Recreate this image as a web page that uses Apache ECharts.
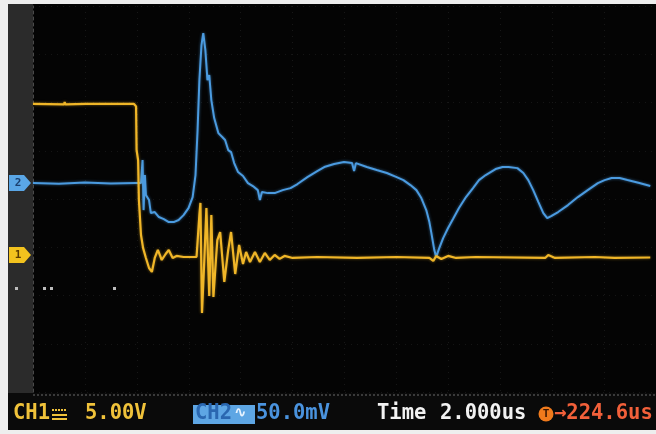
<!DOCTYPE html>
<html>
<head>
<meta charset="utf-8">
<script src="https://cdn.jsdelivr.net/npm/echarts@6/dist/echarts.min.js"></script>
<style>
  html, body { margin: 0; padding: 0; background: #eeeeee; }
  #chart { width: 656px; height: 434px; }
</style>
</head>
<body>
<div id="chart"></div>
<script>
// Time base: 2 us/div, 12 divisions
const timeMax = 24;
const timeStep = 2;
// Vertical: 8 divisions, channel zero offsets in divisions from the bottom
const divisions = 8;
const ch1VoltsPerDiv = 5;      // V/div
const ch2MilliVoltsPerDiv = 50; // mV/div
const ch1ZeroDiv = 2.84;
const ch2ZeroDiv = 4.33;

// CH1 trace: [time us, volts]
const ch1Trace = [
  [0, 15.65], [1.2, 15.6], [1.22, 15.85], [1.25, 15.6], [2.03, 15.65], [2.05, 15.85], [2.08, 15.6],
  [2.85, 15.65], [2.87, 15.85], [2.9, 15.6], [3.89, 15.65], [3.97, 15.4], [3.99, 10.9], [4.05, 9.8],
  [4.08, 5.7], [4.16, 2.07], [4.24, 0.73], [4.35, -0.31], [4.47, -1.35], [4.58, -1.76], [4.69, -0.31],
  [4.81, 0.52], [4.96, -0.52], [5.11, 0.1], [5.23, 0.52], [5.38, -0.31], [5.53, -0.1], [5.8, -0.21],
  [6.3, -0.21], [6.41, 4.15], [6.45, 5.39], [6.51, -6.0], [6.6, -0.52], [6.68, 4.87], [6.79, -4.25],
  [6.87, 4.15], [6.95, -4.35], [7.1, 1.55], [7.21, 2.38], [7.37, -2.8], [7.52, 0.52], [7.63, 2.38],
  [7.79, -1.97], [7.94, 1.04], [8.09, -0.93], [8.21, 0.31], [8.36, -0.73], [8.55, 0.31], [8.74, -0.73],
  [8.93, 0.21], [9.12, -0.52], [9.31, 0], [9.5, -0.41], [9.69, -0.1], [10.0, -0.31], [10.95, -0.21],
  [12.48, -0.31], [14.0, -0.21], [15.27, -0.31], [15.42, -0.62], [15.53, -0.1], [15.73, -0.41],
  [15.99, -0.1], [16.3, -0.31], [17.06, -0.21], [19.73, -0.31], [19.85, 0], [20.11, -0.31],
  [21.64, -0.21], [22.4, -0.31], [23.78, -0.26]
];

// CH2 trace: [time us, millivolts]
const ch2Trace = [
  [0, 0], [1.0, -0.8], [2.0, 0.6], [3.0, -0.5], [3.97, 0], [4.16, 0], [4.22, 23.8], [4.26, -28],
  [4.31, 8.3], [4.35, -12.4], [4.47, -17.6], [4.54, -31.1], [4.69, -30], [4.85, -35.2], [5.04, -37.3],
  [5.23, -40.4], [5.42, -40.4], [5.61, -38.3], [5.8, -33.2], [5.99, -25.9], [6.15, -14.5], [6.26, 8.3],
  [6.34, 54.9], [6.41, 106.7], [6.49, 143], [6.56, 155.4], [6.64, 137.8], [6.72, 106.7], [6.79, 111.9],
  [6.87, 86], [6.98, 67.4], [7.14, 51.8], [7.29, 47.7], [7.4, 44.6], [7.52, 34.2], [7.63, 32.1],
  [7.75, 20.7], [7.9, 11.4], [8.09, 7.3], [8.28, 0], [8.47, -3.1], [8.66, -7.3], [8.74, -17.6],
  [8.82, -9.3], [9.05, -10.4], [9.31, -10.4], [9.62, -7.3], [9.92, -5.2], [10.19, -1.0], [10.57, 6.2],
  [10.95, 12.4], [11.22, 16.6], [11.6, 19.7], [11.98, 21.8], [12.29, 20.7], [12.37, 12.4], [12.44, 20.7],
  [12.86, 16.6], [13.24, 13.5], [13.63, 10.4], [14.01, 6.2], [14.27, 3.1], [14.54, -2.1], [14.77, -7.3],
  [14.96, -15.5], [15.15, -28], [15.27, -40.4], [15.34, -50.8], [15.46, -69.4], [15.53, -76.7],
  [15.65, -67.4], [15.8, -57], [15.99, -46.6], [16.18, -37.3], [16.41, -25.9], [16.68, -14.5],
  [16.95, -5.2], [17.18, 3.1], [17.44, 8.3], [17.82, 14.5], [18.09, 16.6], [18.32, 16.6], [18.66, 15.5],
  [18.89, 10.4], [19.08, 3.1], [19.27, -7.3], [19.47, -19.7], [19.66, -31.1], [19.81, -36.3],
  [19.96, -34.2], [20.23, -30], [20.61, -22.8], [20.99, -14.5], [21.37, -7.3], [21.76, 0], [22.02, 3.1],
  [22.29, 5.2], [22.6, 5.2], [22.9, 3.1], [23.36, 0], [23.78, -3.1]
];

// Status line texts
const ch1Label = 'CH1';
const ch1Scale = '5.00V';
const ch2Label = 'CH2';
const ch2Scale = '50.0mV';
const timeLabel = 'Time';
const timeScale = '2.000us';
const triggerLabel = '→224.6us';

const MONO = '"DejaVu Sans Mono", "Liberation Mono", monospace';
const YELLOW = '#f0b628';
const BLUE = '#4b9be0';

const chart = echarts.init(document.getElementById('chart'), null, { renderer: 'canvas' });

const gridBox = { left: 33, top: 6, width: 629, height: 386 };

chart.setOption({
  backgroundColor: '#eeeeee',
  animation: false,
  grid: Object.assign({ containLabel: false }, gridBox),
  xAxis: {
    type: 'value', min: 0, max: timeMax, interval: timeStep,
    axisLabel: { show: false }, axisTick: { show: false },
    axisLine: { show: false },
    splitLine: { show: true, lineStyle: { color: 'rgba(200,200,200,0.10)', type: [1, 5], width: 1 } }
  },
  yAxis: [
    { // grid divisions
      type: 'value', min: 0, max: divisions, interval: 1,
      axisLabel: { show: false }, axisTick: { show: false },
      axisLine: { show: true, lineStyle: { color: '#4a4a4a', type: [3, 3] } },
      splitLine: { show: true, lineStyle: { color: 'rgba(200,200,200,0.09)', type: [1, 5], width: 1 } }
    },
    { // CH1 volts
      type: 'value', show: false,
      min: -ch1ZeroDiv * ch1VoltsPerDiv, max: (divisions - ch1ZeroDiv) * ch1VoltsPerDiv,
      splitLine: { show: false }
    },
    { // CH2 millivolts
      type: 'value', show: false,
      min: -ch2ZeroDiv * ch2MilliVoltsPerDiv, max: (divisions - ch2ZeroDiv) * ch2MilliVoltsPerDiv,
      splitLine: { show: false }
    }
  ],
  series: [
    {
      name: 'CH2', type: 'line', yAxisIndex: 2, data: ch2Trace,
      showSymbol: false, smooth: false, z: 3,
      lineStyle: { color: BLUE, width: 2, shadowColor: 'rgba(75,155,224,0.6)', shadowBlur: 3 }
    },
    {
      name: 'CH1', type: 'line', yAxisIndex: 1, data: ch1Trace,
      showSymbol: false, smooth: false, z: 4,
      lineStyle: { color: YELLOW, width: 2.2, shadowColor: 'rgba(240,182,40,0.5)', shadowBlur: 3 }
    }
  ]
});

// Channel ground markers placed at each channel's zero level
const ch1Zero = chart.convertToPixel({ xAxisIndex: 0, yAxisIndex: 1 }, [0, 0])[1];
const ch2Zero = chart.convertToPixel({ xAxisIndex: 0, yAxisIndex: 2 }, [0, 0])[1];

function marker(y, color, label, textColor) {
  return [
    { type: 'polygon', z: 20, shape: { points: [[9, y - 8], [24, y - 8], [31, y], [24, y + 8], [9, y + 8]] }, style: { fill: color }, silent: true },
    { type: 'text', z: 21, style: { x: 18, y: y, text: label, fill: textColor, font: 'bold 11px ' + MONO, align: 'center', verticalAlign: 'middle' }, silent: true }
  ];
}

const statusY = 414;
const statusFont = 'bold 20.5px ' + MONO;

chart.setOption({
  graphic: [
    // frame: left bezel strip, plot background, status bar
    { type: 'rect', z: -10, shape: { x: 8, y: 4, width: 25, height: 426 }, style: { fill: '#2b2b2b' }, silent: true },
    { type: 'rect', z: -10, shape: { x: 33, y: 4, width: 623, height: 389 }, style: { fill: '#040404' }, silent: true },
    { type: 'rect', z: -10, shape: { x: 8, y: 393, width: 648, height: 37 }, style: { fill: '#0a0a0a' }, silent: true },
    { type: 'line', z: -9, shape: { x1: 33, y1: 395, x2: 656, y2: 395 }, style: { stroke: '#3a3a3a', lineWidth: 2, lineDash: [2, 2] }, silent: true },
    ...marker(ch2Zero, '#5aa6e6', '2', '#1b3f6e'),
    ...marker(ch1Zero, '#f2c21e', '1', '#5a3a00'),
    // stray pixels on the screen
    { type: 'rect', z: 5, shape: { x: 15, y: 287, width: 3, height: 3 }, style: { fill: '#bdbdbd' }, silent: true },
    { type: 'rect', z: 5, shape: { x: 43, y: 287, width: 3, height: 3 }, style: { fill: '#bdbdbd' }, silent: true },
    { type: 'rect', z: 5, shape: { x: 50, y: 287, width: 3, height: 3 }, style: { fill: '#bdbdbd' }, silent: true },
    { type: 'rect', z: 5, shape: { x: 113, y: 287, width: 3, height: 3 }, style: { fill: '#bdbdbd' }, silent: true },
    // status line
    { type: 'text', z: 20, style: { x: 13, y: statusY, text: ch1Label, fill: '#f0c23a', font: statusFont, verticalAlign: 'middle' }, silent: true },
    { type: 'line', z: 20, shape: { x1: 52, y1: 410, x2: 67, y2: 410 }, style: { stroke: '#f0c23a', lineWidth: 2, lineDash: [2, 1] }, silent: true },
    { type: 'line', z: 20, shape: { x1: 52, y1: 415, x2: 67, y2: 415 }, style: { stroke: '#f0c23a', lineWidth: 2 }, silent: true },
    { type: 'line', z: 20, shape: { x1: 52, y1: 419, x2: 67, y2: 419 }, style: { stroke: '#f0c23a', lineWidth: 2 }, silent: true },
    { type: 'text', z: 20, style: { x: 85, y: statusY, text: ch1Scale, fill: '#f0c23a', font: statusFont, verticalAlign: 'middle' }, silent: true },
    { type: 'rect', z: 19, shape: { x: 193, y: 405, width: 62, height: 19 }, style: { fill: '#5ea6e4' }, silent: true },
    { type: 'text', z: 20, style: { x: 195, y: statusY, text: ch2Label, fill: '#2a67b0', font: statusFont, verticalAlign: 'middle' }, silent: true },
    { type: 'text', z: 20, style: { x: 234, y: statusY - 1, text: '∿', fill: '#e8f3ff', font: 'bold 15px "DejaVu Sans"', verticalAlign: 'middle' }, silent: true },
    { type: 'text', z: 20, style: { x: 256, y: statusY, text: ch2Scale, fill: '#4a93de', font: statusFont, verticalAlign: 'middle' }, silent: true },
    { type: 'text', z: 20, style: { x: 377, y: statusY, text: timeLabel, fill: '#f2f2f2', font: statusFont, verticalAlign: 'middle' }, silent: true },
    { type: 'text', z: 20, style: { x: 440, y: statusY, text: timeScale, fill: '#f2f2f2', font: statusFont, verticalAlign: 'middle' }, silent: true },
    { type: 'circle', z: 19, shape: { cx: 546, cy: statusY, r: 7.5 }, style: { fill: '#f07a1c' }, silent: true },
    { type: 'text', z: 20, style: { x: 546, y: statusY, text: 'T', fill: '#3a1600', font: 'bold 11px ' + MONO, align: 'center', verticalAlign: 'middle' }, silent: true },
    { type: 'text', z: 20, style: { x: 554, y: statusY, text: triggerLabel, fill: '#f2603a', font: statusFont, verticalAlign: 'middle' }, silent: true }
  ]
});
</script>
</body>
</html>
